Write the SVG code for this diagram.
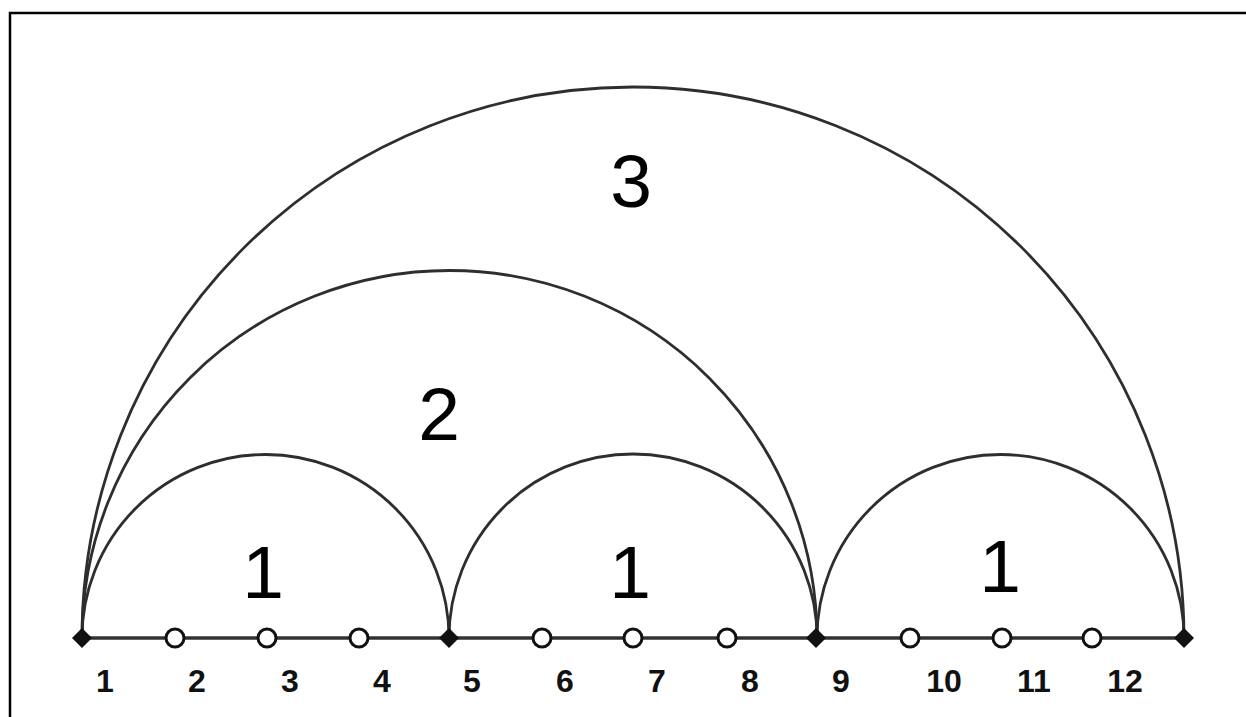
<svg xmlns="http://www.w3.org/2000/svg" width="1246" height="717" viewBox="0 0 1246 717">
<defs>
<style>
.arc{fill:none;stroke:#2e2e2e;stroke-width:2.8}
.base{stroke:#333;stroke-width:3.5}
.dia{fill:#111}
.open{fill:#fff;stroke:#111;stroke-width:3}
.lbl{font-family:"Liberation Sans",Arial,sans-serif;font-weight:bold;font-size:32px;fill:#111;text-anchor:middle}
.big{font-family:"Liberation Sans",Arial,sans-serif;font-size:75px;fill:#000;text-anchor:middle}
</style>
<path id="dm" d="M0,-10 L10,0 L0,10 L-10,0 Z"/>
</defs>
<rect x="0" y="0" width="1246" height="717" fill="#fff"/>
<rect x="10" y="13" width="1250" height="720" fill="none" stroke="#000" stroke-width="2.5"/>
<g id="connectors">
<path class="arc" d="M82,638 A551,551 0 0 1 1184,638"/>
<path class="arc" d="M82,638 A367.5,367.5 0 0 1 817,638"/>
<path class="arc" d="M82,638 A183.5,183.5 0 0 1 449,638"/>
<path class="arc" d="M449,638 A184,184 0 0 1 817,638"/>
<path class="arc" d="M817,638 A183.5,183.5 0 0 1 1184,638"/>
<line class="base" x1="82" y1="638" x2="1184" y2="638"/>
</g>
<g id="n1"><use href="#dm" class="dia" x="82" y="638"/><text class="lbl" x="105" y="692">1</text></g>
<g id="n2"><circle class="open" cx="175" cy="638" r="9"/><text class="lbl" x="197" y="692">2</text></g>
<g id="n3"><circle class="open" cx="267" cy="638" r="9"/><text class="lbl" x="290" y="692">3</text></g>
<g id="n4"><circle class="open" cx="359" cy="638" r="9"/><text class="lbl" x="382" y="692">4</text></g>
<g id="n5"><use href="#dm" class="dia" x="449" y="638"/><text class="lbl" x="472" y="692">5</text></g>
<g id="n6"><circle class="open" cx="542" cy="638" r="9"/><text class="lbl" x="565" y="692">6</text></g>
<g id="n7"><circle class="open" cx="633" cy="638" r="9"/><text class="lbl" x="657" y="692">7</text></g>
<g id="n8"><circle class="open" cx="727" cy="638" r="9"/><text class="lbl" x="750" y="692">8</text></g>
<g id="n9"><use href="#dm" class="dia" x="816" y="638"/><text class="lbl" x="841" y="692">9</text></g>
<g id="n10"><circle class="open" cx="910" cy="638" r="9"/><text class="lbl" x="944" y="692">10</text></g>
<g id="n11"><circle class="open" cx="1002" cy="638" r="9"/><text class="lbl" x="1034" y="692">11</text></g>
<g id="n12"><circle class="open" cx="1092" cy="638" r="9"/><text class="lbl" x="1125" y="692">12</text></g>
<g id="n13"><use href="#dm" class="dia" x="1184" y="638"/></g>
<g id="region-labels">
<text class="big" x="263" y="598">1</text>
<text class="big" x="630" y="598">1</text>
<text class="big" x="1000" y="592">1</text>
<text class="big" x="439" y="440">2</text>
<text class="big" x="631" y="207">3</text>
</g>
</svg>
